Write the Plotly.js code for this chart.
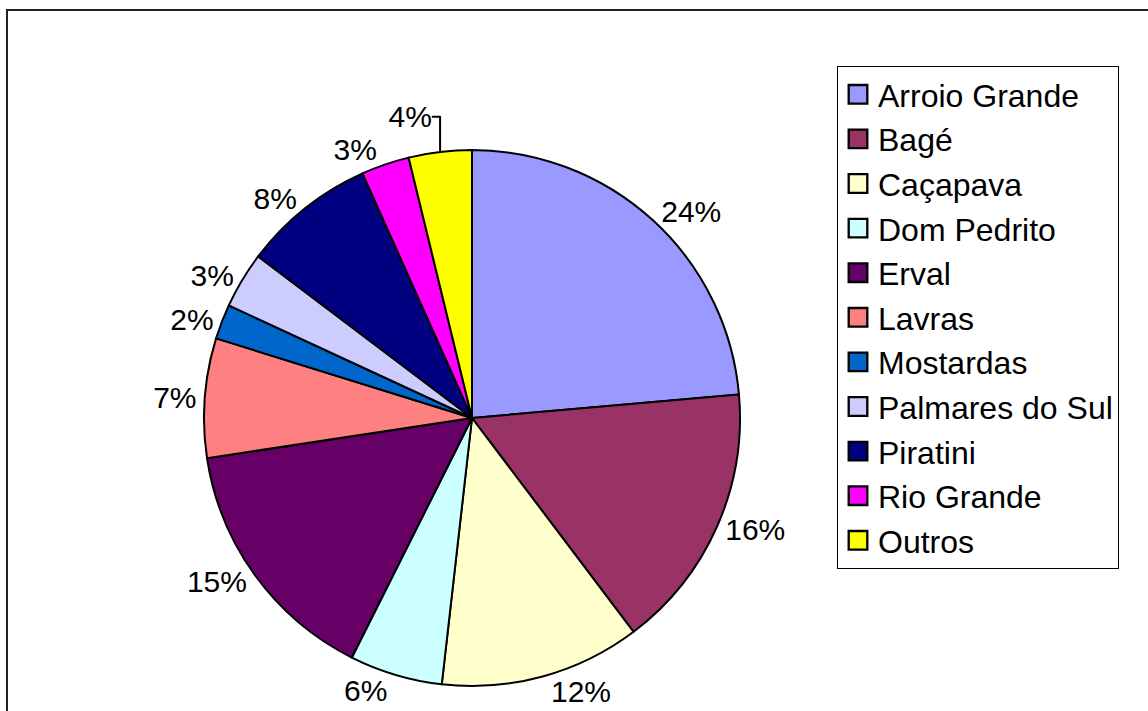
<!DOCTYPE html>
<html>
<head>
<meta charset="utf-8">
<script src="https://cdn.plot.ly/plotly-3.0.1.min.js"></script>
<style>html,body{margin:0;padding:0;background:#fff;}#chart{width:1148px;height:711px;}</style>
</head>
<body>
<div id="chart"></div>
<script>
// Data
const labels = ["Arroio Grande", "Bagé", "Caçapava", "Dom Pedrito", "Erval", "Lavras",
                "Mostardas", "Palmares do Sul", "Piratini", "Rio Grande", "Outros"];
const values = [23.6, 16.1, 12.1, 5.6, 15.2, 7.2, 2.1, 3.4, 8.0, 2.9, 3.8];
const colors = ["#9999FF", "#993366", "#FFFFCC", "#CCFFFF", "#660066", "#FF8080",
                "#0066CC", "#CCCCFF", "#000080", "#FF00FF", "#FFFF00"];

const W = 1148, H = 711;
const cx = 472, cy = 418, r = 268;
const FONT = "Arial, 'Liberation Sans', sans-serif";

const trace = {
  type: "pie",
  labels: labels,
  values: values,
  sort: false,
  direction: "clockwise",
  rotation: 0,
  marker: { colors: colors, line: { color: "#000000", width: 2 } },
  texttemplate: "%{percent:.0%}",
  textposition: "outside",
  outsidetextfont: { family: FONT, size: 30, color: "#000000" },
  hoverinfo: "label+percent",
  domain: {
    x: [(cx - r) / W, (cx + r) / W],
    y: [1 - (cy + r) / H, 1 - (cy - r) / H]
  }
};

const layout = {
  width: W,
  height: H,
  margin: { l: 0, r: 0, t: 0, b: 0 },
  paper_bgcolor: "#ffffff",
  showlegend: true,
  legend: {
    x: 837 / W, xanchor: "left",
    y: 1 - 66 / H, yanchor: "top",
    bgcolor: "#ffffff",
    bordercolor: "#000000",
    borderwidth: 1,
    font: { family: FONT, size: 32, color: "#000000" },
    traceorder: "normal"
  },
  shapes: [{
    type: "rect", xref: "paper", yref: "paper",
    x0: 7 / W, x1: 1.2, y0: -0.2, y1: 1 - 10 / H,
    line: { color: "#222222", width: 2 },
    fillcolor: "rgba(0,0,0,0)",
    layer: "below"
  }]
};

Plotly.newPlot("chart", [trace], layout, { displayModeBar: false, staticPlot: true })
  .then(function () {
    // enlarge the legend swatches to match the reference's bigger squares
    document.querySelectorAll("#chart .legendpoints path").forEach(function (p) {
      const t = p.getAttribute("transform") || "";
      p.setAttribute("transform", t + " scale(1.55)");
      p.style.strokeWidth = "1.5px";
    });
  });
</script>
</body>
</html>
